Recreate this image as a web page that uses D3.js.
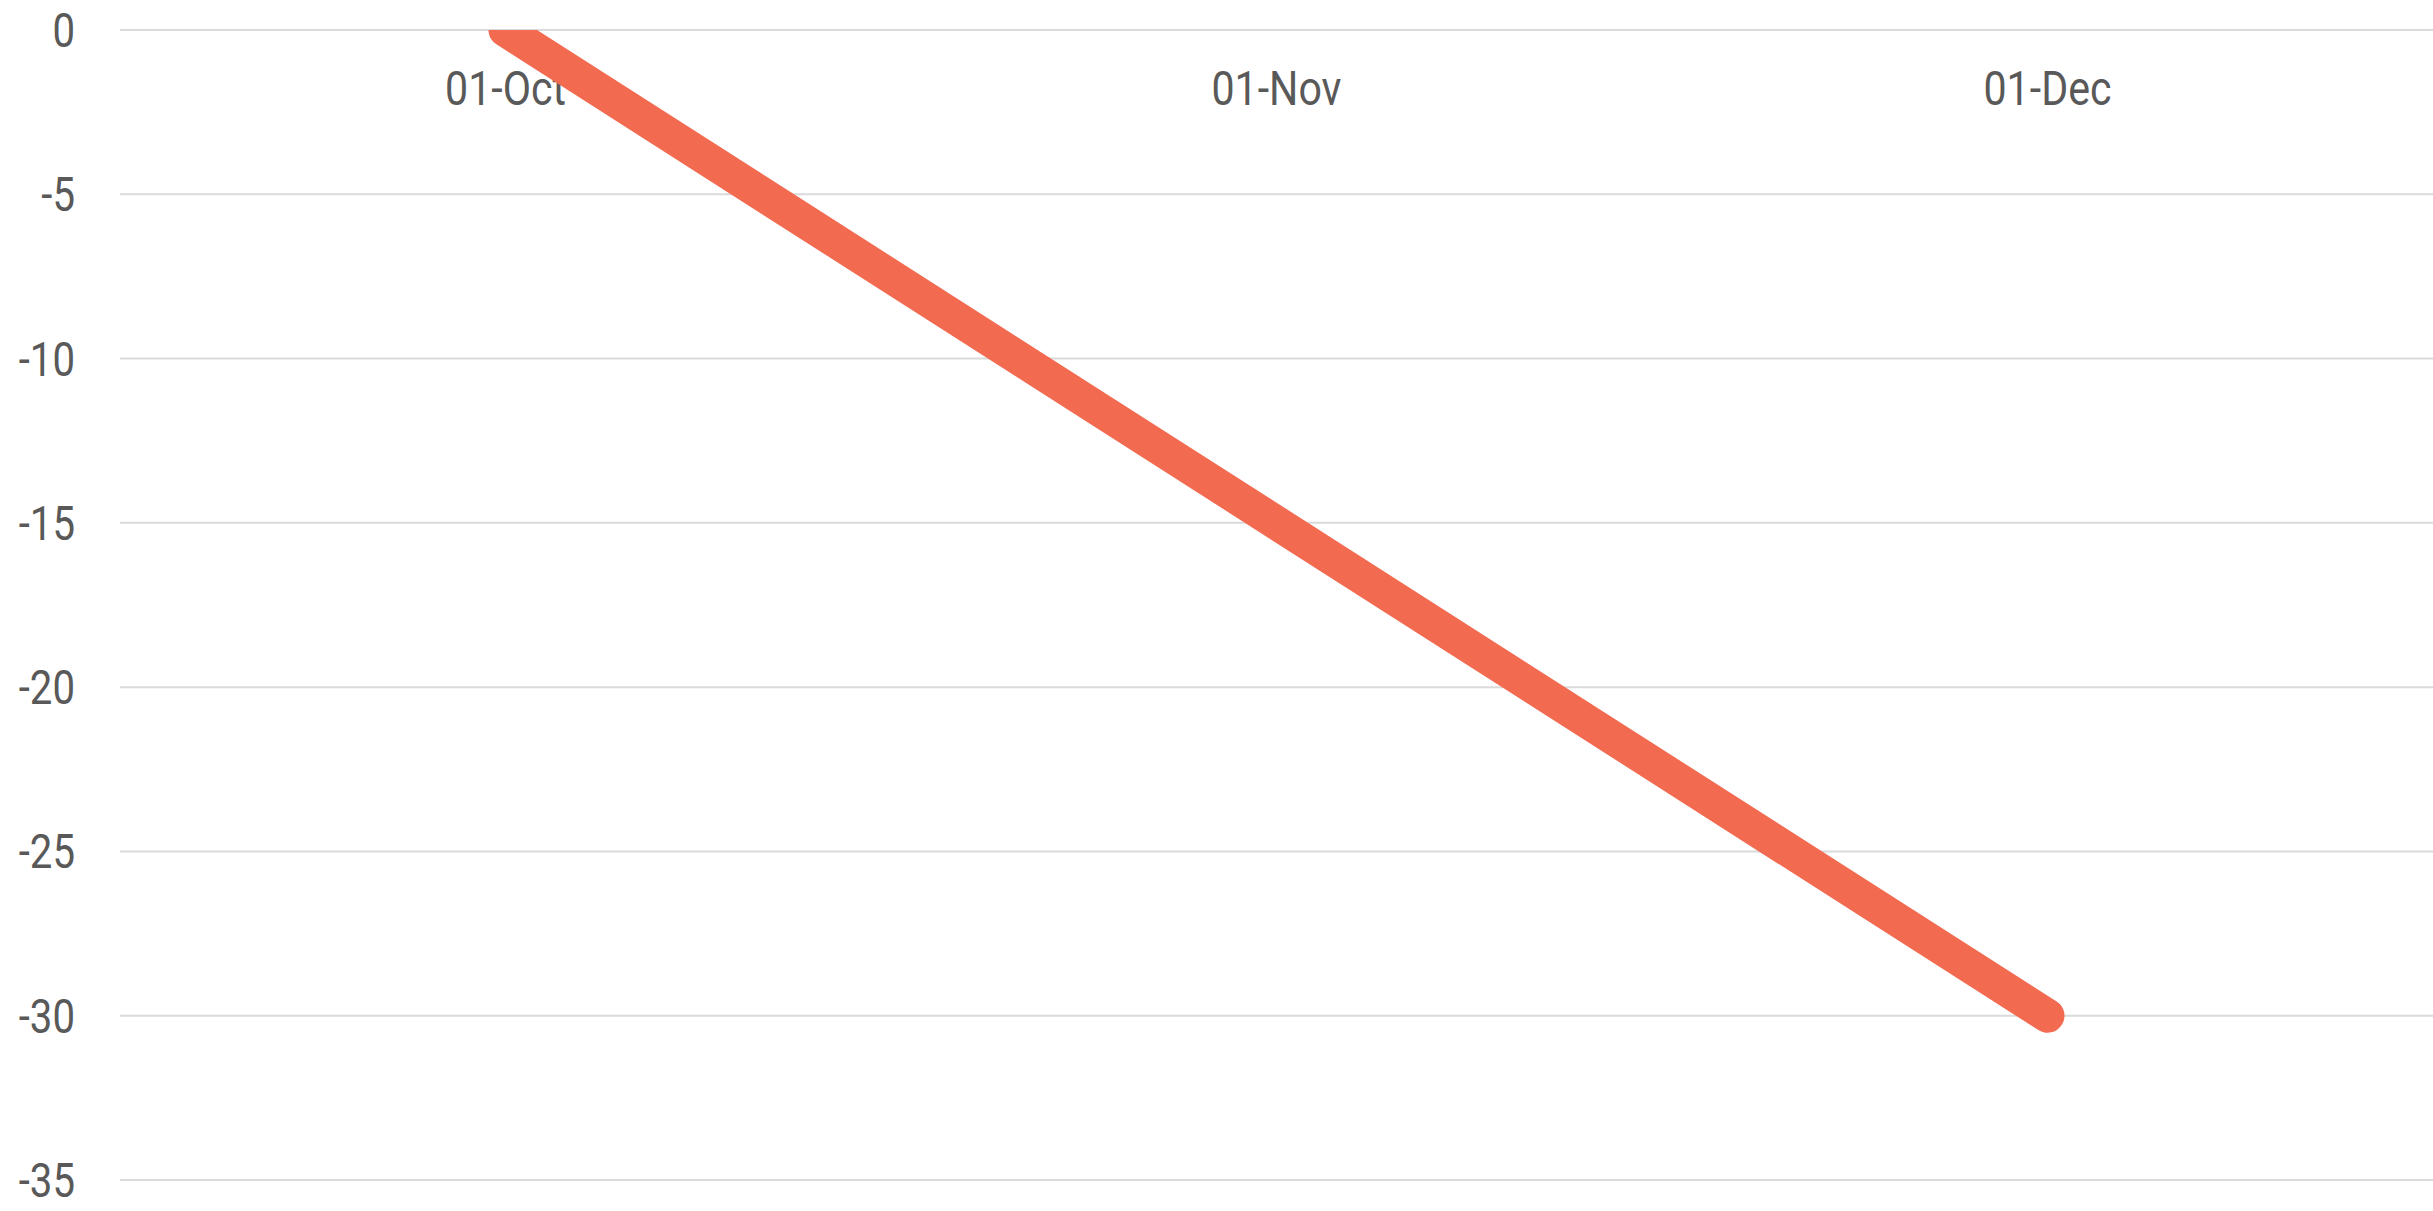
<!DOCTYPE html>
<html>
<head>
<meta charset="utf-8">
<script src="https://cdn.jsdelivr.net/npm/d3@7"></script>
<style>
  body { margin: 0; background: #fff; }
  text { font-family: Roboto, "Noto Sans", sans-serif; fill: #595959; }
</style>
</head>
<body>
<div id="chart"></div>
<script>
// Data
var categories = ["01-Oct", "01-Nov", "01-Dec"];
var values = [0, -15, -30];
var yTicks = [0, -5, -10, -15, -20, -25, -30, -35];

//Define SVG area
var svgWidth = 2433;
var svgHeight = 1211;

//Define chart margins
var chartMargin = { top: 30, right: 0, bottom: 31, left: 120 };

var chartWidth = svgWidth - chartMargin.left - chartMargin.right;
var chartHeight = svgHeight - chartMargin.top - chartMargin.bottom;

var svg = d3.select("#chart")
    .append("svg")
    .attr("width", svgWidth)
    .attr("height", svgHeight);

var chartGroup = svg.append("g")
    .attr("transform", `translate(${chartMargin.left}, ${chartMargin.top})`);

//Scales
var xScale = d3.scalePoint()
    .domain(categories)
    .range([0, chartWidth])
    .padding(0.5);

var yScale = d3.scaleLinear()
    .domain([-35, 0])
    .range([chartHeight, 0]);

//Gridlines
chartGroup.selectAll(".grid")
    .data(yTicks)
    .enter()
    .append("line")
    .attr("class", "grid")
    .attr("x1", 0)
    .attr("x2", chartWidth)
    .attr("y1", d => yScale(d))
    .attr("y2", d => yScale(d))
    .attr("stroke", "#dadada")
    .attr("stroke-width", 2);

//Y labels (condensed look)
chartGroup.selectAll(".ylabel")
    .data(yTicks)
    .enter()
    .append("text")
    .attr("class", "ylabel")
    .attr("transform", d => `translate(${75 - chartMargin.left}, ${yScale(d) + 17}) scale(0.82,1)`)
    .attr("text-anchor", "end")
    .style("font-size", "49px")
    .text(d => d);

//X labels
chartGroup.selectAll(".xlabel")
    .data(categories)
    .enter()
    .append("text")
    .attr("class", "xlabel")
    .attr("transform", d => `translate(${xScale(d)}, ${105 - chartMargin.top}) scale(0.84,1)`)
    .attr("text-anchor", "middle")
    .style("font-size", "49px")
    .text(d => d);

//Clip line to plot area
chartGroup.append("clipPath")
    .attr("id", "plotClip")
    .append("rect")
    .attr("x", -chartMargin.left)
    .attr("y", 0)
    .attr("width", svgWidth)
    .attr("height", chartHeight + chartMargin.bottom);

var line = d3.line()
    .x((d, i) => xScale(categories[i]))
    .y(d => yScale(d));

chartGroup.append("path")
    .datum(values)
    .attr("clip-path", "url(#plotClip)")
    .attr("d", line)
    .attr("fill", "none")
    .attr("stroke", "#f26a50")
    .attr("stroke-width", 34)
    .attr("stroke-linecap", "round")
    .attr("stroke-linejoin", "round");
</script>
</body>
</html>
